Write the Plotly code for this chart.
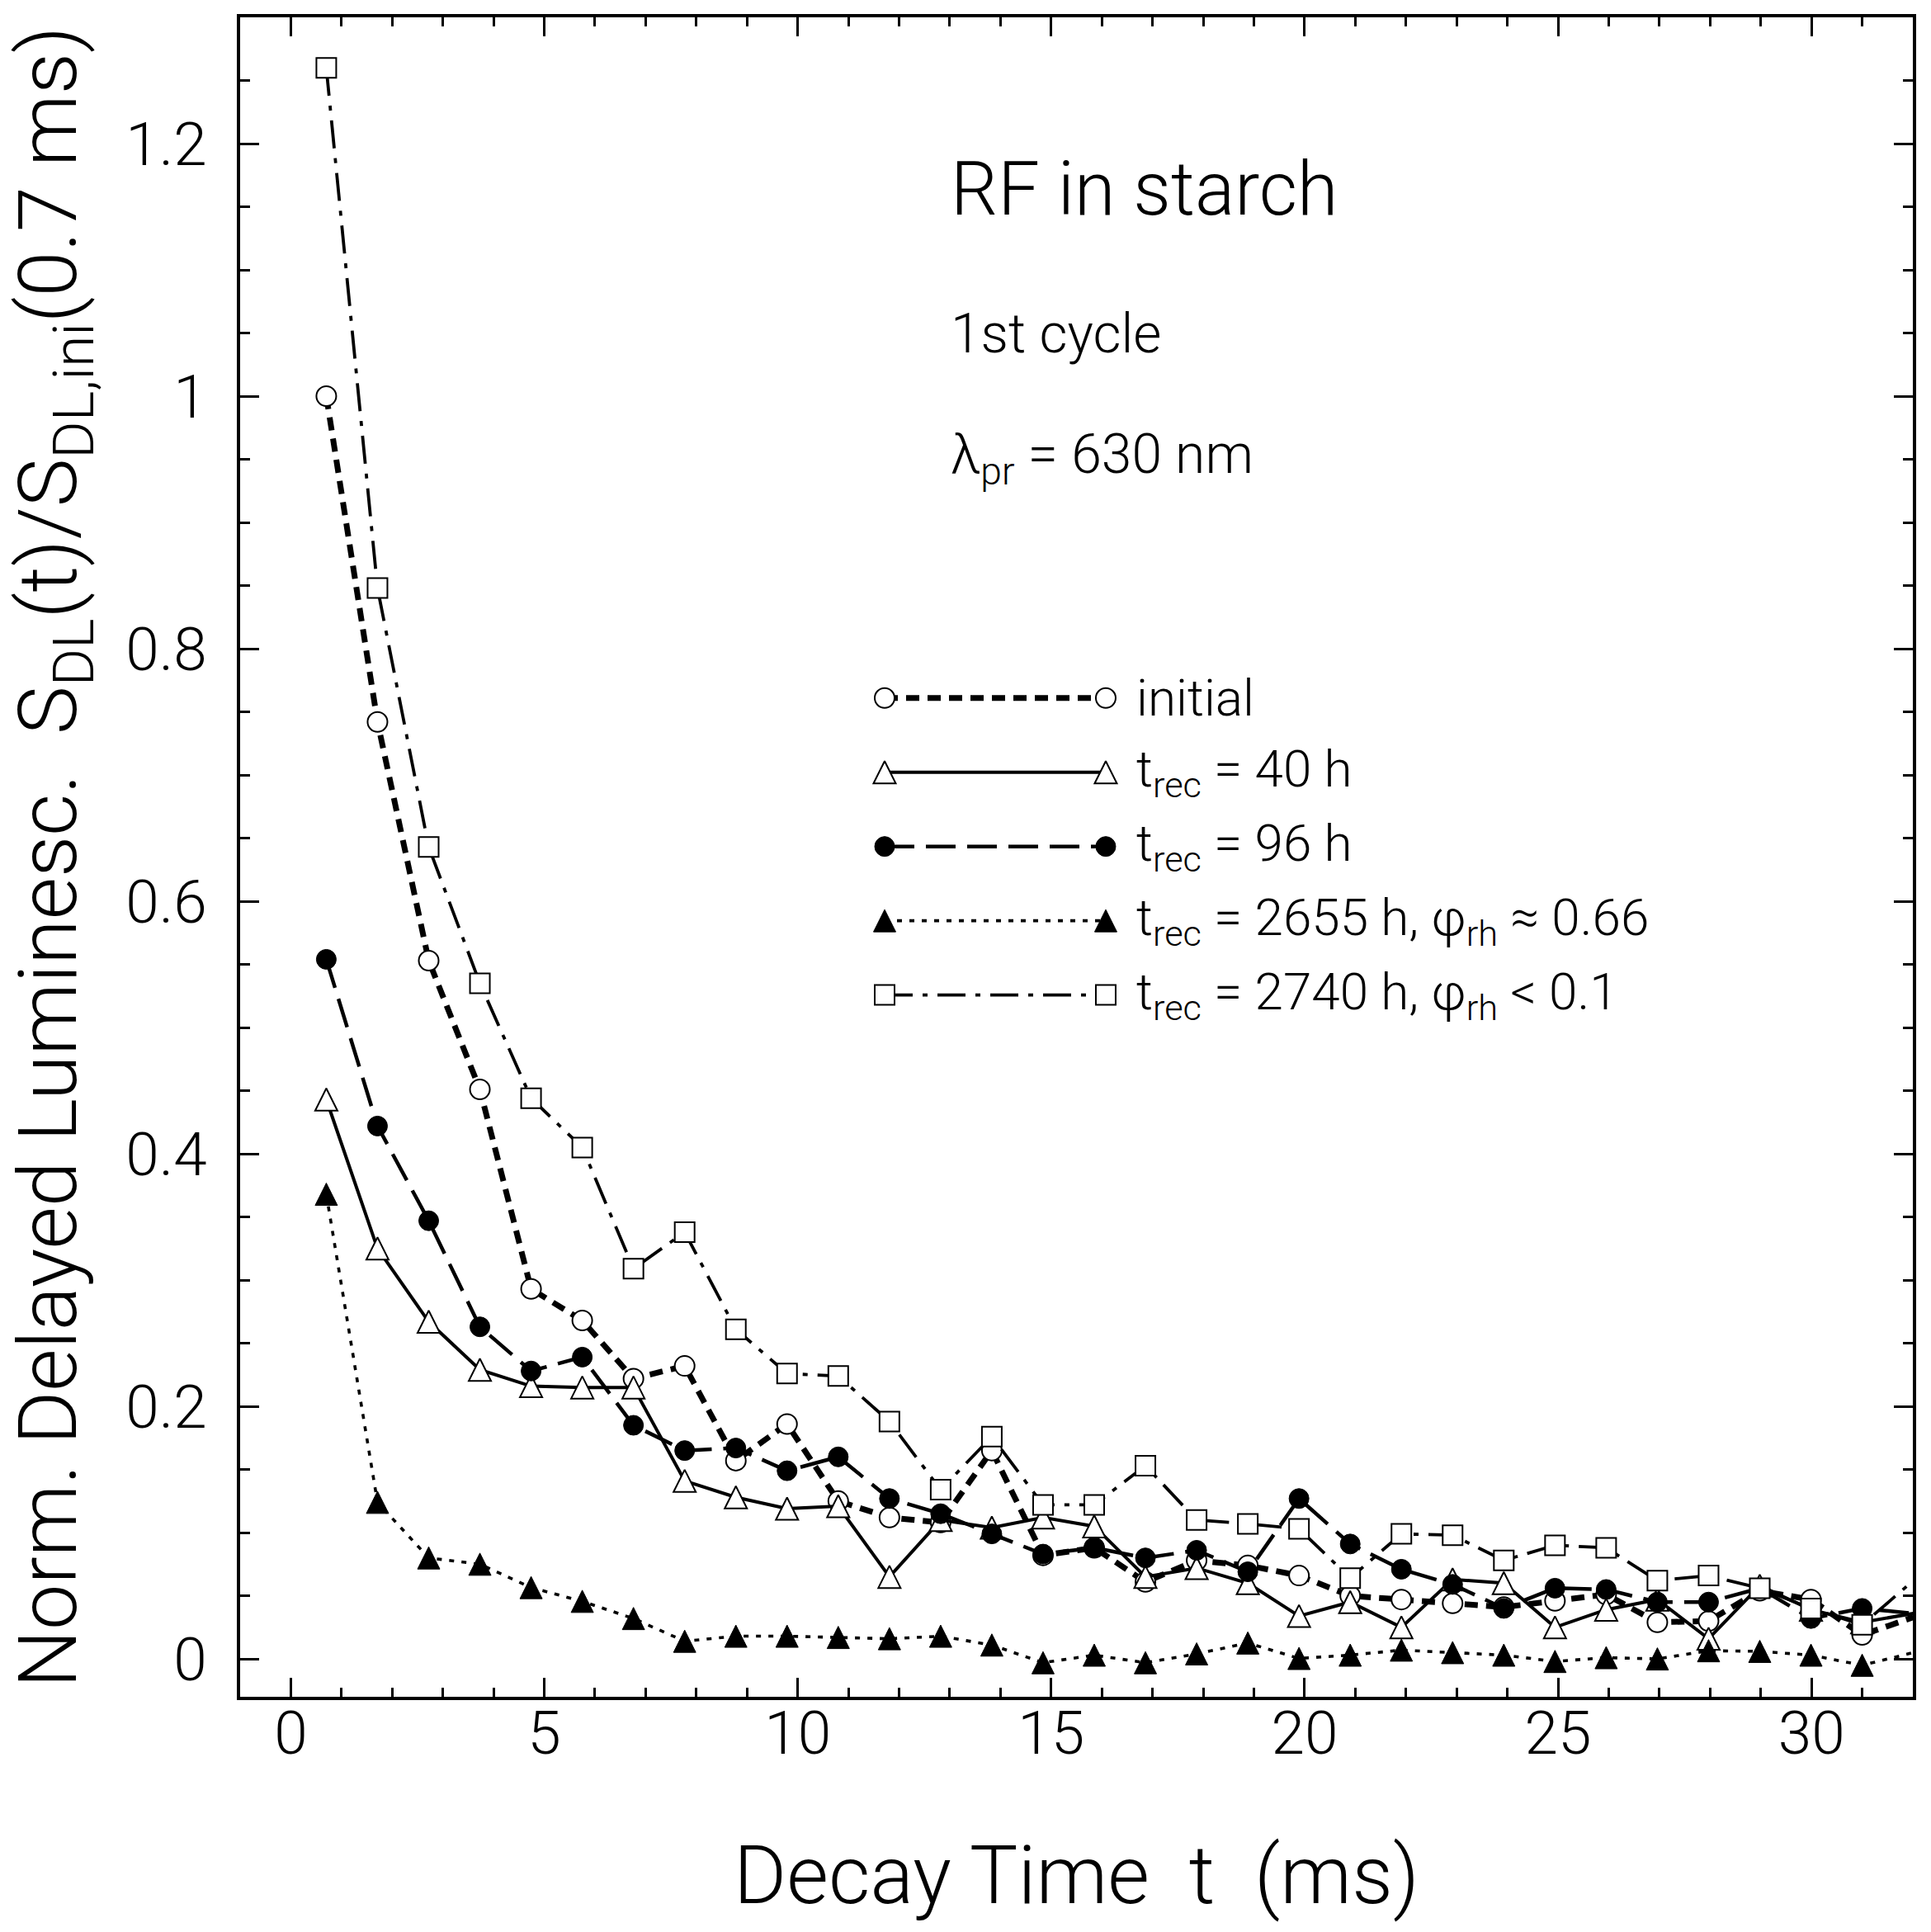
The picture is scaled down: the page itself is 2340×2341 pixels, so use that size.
import plotly.graph_objects as go

# decay time (ms) of each channel; the last channel lies just past the axis end
t_ms = [0.7, 1.71, 2.72, 3.73, 4.74, 5.75, 6.76, 7.77, 8.78, 9.79,
        10.8, 11.81, 12.82, 13.83, 14.84, 15.85, 16.86, 17.87, 18.88, 19.89,
        20.9, 21.91, 22.92, 23.93, 24.94, 25.95, 26.96, 27.97, 28.98, 29.99,
        31.0, 32.01]

s_initial = [1.0, 0.742, 0.553, 0.451, 0.293, 0.268, 0.222, 0.232, 0.157, 0.186,
             0.125, 0.112, 0.108, 0.165, 0.082, 0.088, 0.061, 0.078, 0.074, 0.066,
             0.050, 0.047, 0.044, 0.041, 0.046, 0.051, 0.029, 0.030, 0.054, 0.047,
             0.019, 0.033]

s_40h = [0.443, 0.325, 0.267, 0.229, 0.216, 0.215, 0.215, 0.141, 0.128, 0.119,
         0.121, 0.065, 0.110, 0.104, 0.112, 0.105, 0.065, 0.072, 0.060, 0.034,
         0.045, 0.025, 0.063, 0.060, 0.025, 0.039, 0.047, 0.016, 0.058, 0.039,
         0.029, 0.036]

s_96h = [0.554, 0.422, 0.347, 0.263, 0.228, 0.239, 0.185, 0.165, 0.167, 0.149,
         0.160, 0.127, 0.115, 0.099, 0.083, 0.088, 0.080, 0.086, 0.069, 0.127,
         0.091, 0.071, 0.059, 0.040, 0.056, 0.055, 0.045, 0.045, 0.056, 0.032,
         0.040, 0.036]

s_2655h = [0.368, 0.124, 0.080, 0.075, 0.0565, 0.0456, 0.032, 0.014, 0.018, 0.018,
           0.017, 0.016, 0.018, 0.011, -0.003, 0.003, -0.003, 0.004, 0.0126, 0.0004,
           0.003, 0.007, 0.005, 0.003, -0.002, 0.001, 0.0, 0.0065, 0.006, 0.003,
           -0.005, 0.005]

s_2740h = [1.26, 0.848, 0.643, 0.535, 0.444, 0.405, 0.309, 0.338, 0.261, 0.226,
           0.224, 0.188, 0.134, 0.176, 0.122, 0.122, 0.153, 0.110, 0.107, 0.103,
           0.064, 0.099, 0.098, 0.078, 0.090, 0.088, 0.062, 0.066, 0.056, 0.040,
           0.027, 0.062]

legend_labels = [
    "initial",
    "t<sub>rec</sub> = 40 h",
    "t<sub>rec</sub> = 96 h",
    "t<sub>rec</sub> = 2655 h, φ<sub>rh</sub> ≈ 0.66",
    "t<sub>rec</sub> = 2740 h, φ<sub>rh</sub> &lt; 0.1",
]

FONT = "Roboto Light, Roboto"
W, H = 2340, 2341
ML, MR, MT, MB = 291, 22, 21, 285


def sizes(s):
    # the channel beyond the axis end only carries the line to the frame
    return [s] * (len(t_ms) - 1) + [0]


# up-pointing triangle centred on the point (arrow shape turned round)
TRI = dict(symbol="arrow-down", angle=180, size=27, standoff=13.5)
styles = [
    # data, marker, line
    (s_initial, dict(symbol="circle", size=24, color="white", line=dict(color="black", width=2)),
     dict(color="black", width=7, dash="16px,10px")),
    (s_40h, dict(TRI, color="white", line=dict(color="black", width=2)),
     dict(color="black", width=4)),
    (s_96h, dict(symbol="circle", size=24, color="black", line=dict(color="black", width=1)),
     dict(color="black", width=4.5, dash="36px,14px")),
    (s_2655h, dict(TRI, color="black", line=dict(color="black", width=1)),
     dict(color="black", width=3.6, dash="6px,9px")),
    (s_2740h, dict(symbol="square", size=24, color="white", line=dict(color="black", width=2)),
     dict(color="black", width=3.8, dash="34px,12px,6px,12px")),
]

fig = go.Figure()
for vals, mk, ln in styles:
    fig.add_trace(go.Scatter(x=t_ms, y=vals, mode="lines+markers",
                             marker=dict(mk, size=sizes(mk["size"]), opacity=1), line=ln,
                             showlegend=False))

# hand made legend on an overlay axis in plot fractions
LEG_X0, LEG_X1, LEG_TX = 0.3853, 0.5175, 0.5348
LEG_Y0, LEG_DY = 0.5947, 0.0442
for i, (lab, (vals, mk, ln)) in enumerate(zip(legend_labels, styles)):
    yy = LEG_Y0 - i * LEG_DY
    fig.add_trace(go.Scatter(x=[LEG_X0, LEG_X1], y=[yy, yy], mode="lines+markers",
                             marker=mk, line=ln, showlegend=False,
                             xaxis="x2", yaxis="y2", hoverinfo="skip"))
    fig.add_annotation(x=LEG_TX, y=yy, xref="x2", yref="y2", text=lab,
                       showarrow=False, xanchor="left", yanchor="middle",
                       font=dict(family=FONT, size=62, color="black", weight=300))

# labels inside the plot
notes = [("RF in starch", 0.8975, 90), ("1st cycle", 0.8115, 66),
         ("λ<sub>pr</sub> = 630 nm", 0.7378, 66)]
for txt, yy, sz in notes:
    fig.add_annotation(x=0.4238, y=yy, xref="paper", yref="paper", text=txt,
                       showarrow=False, xanchor="left", yanchor="middle",
                       font=dict(family=FONT, size=sz, color="black", weight=300))

axis_common = dict(showgrid=False, zeroline=False, showline=True, linecolor="black",
                   linewidth=3.5, mirror="allticks", ticks="inside", ticklen=23,
                   tickwidth=3, tickcolor="black",
                   tickfont=dict(family=FONT, size=73, color="black", weight=300))

fig.update_layout(
    width=W, height=H,
    margin=dict(l=ML, r=MR, t=MT, b=MB),
    paper_bgcolor="white", plot_bgcolor="white",
    xaxis=dict(axis_common, range=[-1, 32], dtick=5, tick0=0,
               minor=dict(dtick=1, ticks="inside", ticklen=11, tickwidth=3, tickcolor="black"),
               ticklabelstandoff=-22,
               title=dict(text="Decay Time\u00a0\u00a0t\u00a0\u00a0(ms)", standoff=96,
                          font=dict(family=FONT, size=98, color="black", weight=300))),
    yaxis=dict(axis_common, range=[-0.03, 1.3], dtick=0.2, tick0=0,
               minor=dict(dtick=0.05, ticks="inside", ticklen=12, tickwidth=3, tickcolor="black"),
               ticklabelstandoff=22,
               title=dict(text="Norm. Delayed Luminesc.\u00a0\u00a0S<sub>DL</sub>(t)/S<sub>DL,ini</sub>(0.7 ms)",
                          standoff=30,
                          font=dict(family=FONT, size=99, color="black", weight=300))),
    xaxis2=dict(range=[0, 1], overlaying="x", visible=False, fixedrange=True),
    yaxis2=dict(range=[0, 1], overlaying="y", visible=False, fixedrange=True),
)

# the page body has a default margin that would push the figure off its place
fig.write_html("out.html", config={"displayModeBar": False},
               post_script="document.body.style.margin='0';")
